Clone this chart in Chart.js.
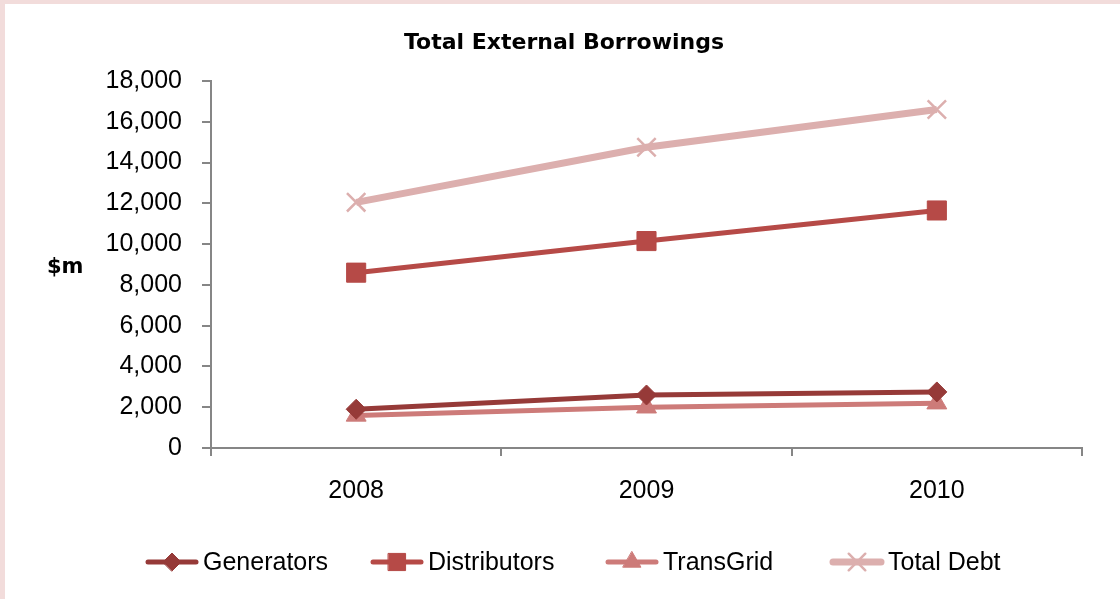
<!DOCTYPE html>
<html>
<head>
<meta charset="utf-8">
<script src="https://cdn.jsdelivr.net/npm/chart.js@4.4.1/dist/chart.umd.min.js"></script>
<style>
  html, body { margin: 0; padding: 0; background: #F2DCDB; width: 1120px; height: 599px; overflow: hidden; }
  #wrap { position: absolute; left: 5px; top: 4px; width: 1115px; height: 595px; background: #ffffff; }
  canvas { display: block; }
</style>
</head>
<body>
<div id="wrap"><canvas id="c" width="1115" height="595"></canvas></div>
<script>
const categories = ['2008', '2009', '2010'];
const generators = [1900, 2600, 2750];
const distributors = [8600, 10150, 11650];
const transGrid = [1600, 2000, 2200];
const totalDebt = [12050, 14750, 16600];
const seriesNames = ['Generators', 'Distributors', 'TransGrid', 'Total Debt'];
const yTicks = [0, 2000, 4000, 6000, 8000, 10000, 12000, 14000, 16000, 18000];
const chartTitle = 'Total External Borrowings';
const yTitle = '$m';

const colors = ['#963A38', '#B64A47', '#CD7B79', '#DCAFAE'];
const pointStyles = ['rectRot', 'rect', 'triangle', 'crossRot'];
const pointRadii = [10, 13.5, 11.5, 13];
const lineWidths = [5, 5, 5, 7];

const values = [generators, distributors, transGrid, totalDebt];
const datasets = values.map((v, i) => ({
  label: seriesNames[i],
  data: v,
  borderColor: colors[i],
  backgroundColor: colors[i],
  borderWidth: lineWidths[i],
  pointStyle: pointStyles[i],
  pointRadius: pointRadii[i],
  pointHoverRadius: pointRadii[i],
  pointBorderWidth: i === 3 ? 2.5 : 1,
  pointBorderColor: colors[i],
  pointBackgroundColor: colors[i],
  tension: 0,
  fill: false
}));

const tickFont = { family: '"Liberation Sans", Arial, sans-serif', size: 25 };
const legendFont = '25px "Liberation Sans", Arial, sans-serif';
const legendX = [140, 365, 600, 825];

const customPlugin = {
  id: 'custom',
  afterDraw(chart) {
    const ctx = chart.ctx;
    ctx.save();
    // title
    ctx.font = 'bold 22px "DejaVu Sans", sans-serif';
    ctx.fillStyle = '#000';
    ctx.textAlign = 'center';
    ctx.textBaseline = 'middle';
    ctx.fillText(chartTitle, 559, 39);
    // y axis title
    ctx.font = 'bold 21px "DejaVu Sans", sans-serif';
    ctx.textAlign = 'left';
    ctx.fillText(yTitle, 42, 264);

    // legend
    ctx.font = legendFont;
    const lineLen = 54, gapText = 4;
    const y = 558;
    chart.data.datasets.forEach((ds, i) => {
      const x = legendX[i];
      ctx.strokeStyle = ds.borderColor;
      ctx.lineWidth = ds.borderWidth;
      ctx.lineCap = 'round';
      ctx.beginPath();
      ctx.moveTo(x + 3, y);
      ctx.lineTo(x + lineLen - 3, y);
      ctx.stroke();
      ctx.fillStyle = ds.backgroundColor;
      ctx.strokeStyle = ds.borderColor;
      ctx.lineWidth = ds.pointBorderWidth;
      Chart.helpers.drawPoint(ctx, { pointStyle: ds.pointStyle, radius: ds.pointRadius * 0.9, borderWidth: ds.pointBorderWidth, rotation: 0 }, x + lineLen / 2, y);
      ctx.fillStyle = '#000';
      ctx.textAlign = 'left';
      ctx.textBaseline = 'middle';
      ctx.fillText(seriesNames[i], x + lineLen + gapText, y + 1);
    });
    ctx.restore();
  }
};

new Chart(document.getElementById('c'), {
  type: 'line',
  data: { labels: categories, datasets },
  options: {
    responsive: false,
    animation: false,
    devicePixelRatio: 1,
    layout: { padding: { left: 0, right: 38, top: 77, bottom: 81 } },
    plugins: {
      legend: { display: false },
      tooltip: { enabled: false },
      title: { display: false }
    },
    scales: {
      x: {
        offset: true,
        grid: { offset: true, drawOnChartArea: false, tickLength: 8, color: '#868686', lineWidth: 2 },
        border: { color: '#868686', width: 2 },
        ticks: { color: '#000', font: tickFont, padding: 20, maxRotation: 0 },
        afterFit(s) { s.height = 70; }
      },
      y: {
        min: 0,
        max: 18000,
        afterBuildTicks(s) { s.ticks = yTicks.map(v => ({ value: v })); },
        grid: { drawOnChartArea: false, tickLength: 9, color: '#868686', lineWidth: 2 },
        border: { color: '#868686', width: 2 },
        ticks: {
          color: '#000', font: tickFont, padding: 20,
          callback: v => v.toLocaleString('en-US')
        },
        afterFit(s) { s.width = 206; }
      }
    }
  },
  plugins: [customPlugin]
});
</script>
</body>
</html>
